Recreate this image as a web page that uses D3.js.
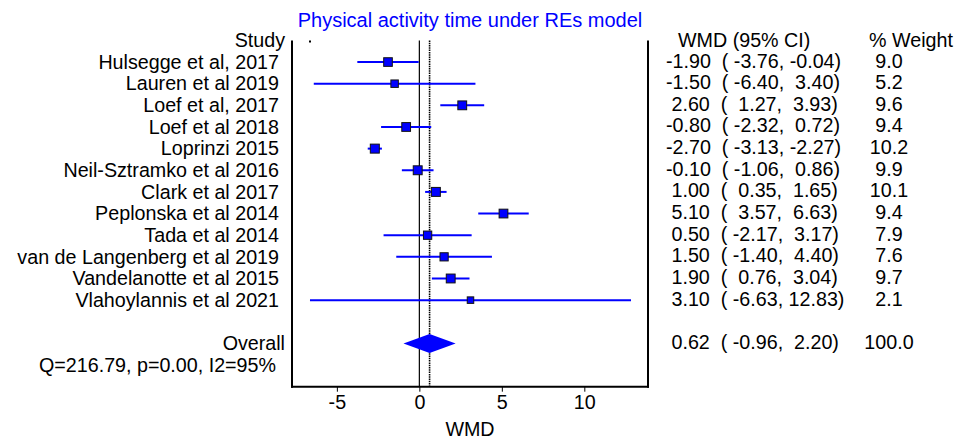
<!DOCTYPE html>
<html>
<head>
<meta charset="utf-8">
<script src="https://cdn.jsdelivr.net/npm/d3@7"></script>
<style>
  html, body { margin: 0; padding: 0; background: #fff; }
  svg { display: block; }
  text { font-family: "Liberation Sans", Arial, sans-serif; fill: #000; white-space: pre; }
</style>
</head>
<body>
<svg id="chart" width="957" height="440"></svg>
<script>
// Study-level results (weighted mean difference, 95% CI, % weight)
const studies = [
  "Hulsegge et al, 2017", "Lauren et al 2019", "Loef et al, 2017", "Loef et al 2018",
  "Loprinzi 2015", "Neil-Sztramko et al 2016", "Clark et al 2017", "Peplonska et al 2014",
  "Tada et al 2014", "van de Langenberg et al 2019", "Vandelanotte et al 2015", "Vlahoylannis et al 2021"
];
const wmd   = [-1.90, -1.50, 2.60, -0.80, -2.70, -0.10, 1.00, 5.10, 0.50, 1.50, 1.90, 3.10];
const lower = [-3.76, -6.40, 1.27, -2.32, -3.13, -1.06, 0.35, 3.57, -2.17, -1.40, 0.76, -6.63];
const upper = [-0.04, 3.40, 3.93, 0.72, -2.27, 0.86, 1.65, 6.63, 3.17, 4.40, 3.04, 12.83];
const weight = [9.0, 5.2, 9.6, 9.4, 10.2, 9.9, 10.1, 9.4, 7.9, 7.6, 9.7, 2.1];

// Pooled random-effects estimate
const overall = { est: 0.62, lo: -0.96, hi: 2.20, weight: 100.0 };
const heterogeneity = "Q=216.79, p=0.00, I2=95%";

const xTicks = [-5, 0, 5, 10];
const titleText = "Physical activity time under REs model";
const xTitle = "WMD";

const svg = d3.select("#chart");
const blue = "#0000ff";

// Plain hyphen-minus for negative numbers
const locale = d3.formatLocale({ decimal: ".", thousands: ",", grouping: [3], currency: ["", ""], minus: "-" });
const f2 = locale.format(".2f");
const f1 = locale.format(".1f");
const fInt = locale.format("d");

// Scales
const x = d3.scaleLinear().domain([-7.72, 13.86]).range([292, 648]);
const y = d3.scaleLinear().domain([0, 16]).range([40.4, 386.7]); // row index -> y
const boxSide = d3.scaleLinear().domain([2.1, 10.2]).range([6.5, 9]);

const fs = 19.7;

// Title
svg.append("text")
  .attr("x", 470).attr("y", 27)
  .attr("text-anchor", "middle")
  .style("font-size", "20px")
  .style("fill", blue)
  .text(titleText);

// Frame: left, right and bottom lines
const frame = svg.append("g").attr("stroke", "#000").attr("stroke-width", 2);
frame.append("line").attr("x1", 292).attr("x2", 292).attr("y1", y(0)).attr("y2", y(16) + 1);
frame.append("line").attr("x1", 648).attr("x2", 648).attr("y1", y(0)).attr("y2", y(16) + 1);

// X axis along the bottom of the frame
const axis = d3.axisBottom(x).tickValues(xTicks).tickSize(5).tickPadding(3).tickFormat(fInt);
const gAxis = svg.append("g").attr("transform", `translate(0,${y(16)})`).call(axis);
gAxis.select(".domain").attr("stroke-width", 2).attr("d", `M291,0H649`);
gAxis.selectAll(".tick line").attr("stroke-width", 1);
gAxis.selectAll(".tick text")
  .style("font-size", fs + "px")
  .style("font-family", '"Liberation Sans", Arial, sans-serif')
  .attr("dy", "0.71em");

svg.append("text")
  .attr("x", 470).attr("y", 436)
  .attr("text-anchor", "middle")
  .style("font-size", fs + "px")
  .text(xTitle);

// Null line and pooled-estimate line
svg.append("line")
  .attr("x1", x(0)).attr("x2", x(0))
  .attr("y1", y(0)).attr("y2", y(16))
  .attr("stroke", "#000").attr("stroke-width", 1.2);
svg.append("line")
  .attr("x1", x(overall.est)).attr("x2", x(overall.est))
  .attr("y1", y(0)).attr("y2", y(16))
  .attr("stroke", "#000").attr("stroke-width", 1.6)
  .attr("stroke-dasharray", "1.5,0.8");

// Small marker at the top of the plot region
svg.append("rect").attr("x", 309).attr("y", 40.5).attr("width", 2).attr("height", 2).attr("fill", "#000");

// Study rows
const rows = studies.map((s, i) => ({
  name: s, est: wmd[i], lo: lower[i], hi: upper[i], w: weight[i], row: i + 1
}));

const gRows = svg.append("g");
gRows.selectAll("line.ci").data(rows).join("line")
  .attr("class", "ci")
  .attr("x1", d => x(d.lo)).attr("x2", d => x(d.hi))
  .attr("y1", d => y(d.row)).attr("y2", d => y(d.row))
  .attr("stroke", blue).attr("stroke-width", 2);

gRows.selectAll("rect.box").data(rows).join("rect")
  .attr("class", "box")
  .attr("x", d => x(d.est) - boxSide(d.w) / 2)
  .attr("y", d => y(d.row) - boxSide(d.w) / 2)
  .attr("width", d => boxSide(d.w))
  .attr("height", d => boxSide(d.w))
  .attr("fill", blue)
  .attr("stroke", "#111")
  .attr("stroke-width", 1);

// Pooled diamond
const oy = y(14);
svg.append("path")
  .attr("d", `M${x(overall.lo)},${oy}L${x(overall.est)},${oy - 9.5}L${x(overall.hi)},${oy}L${x(overall.est)},${oy + 9.5}Z`)
  .attr("fill", blue);

// Left labels
const baseOff = 6.8;
svg.append("text").attr("x", 285).attr("y", y(0) + baseOff)
  .attr("text-anchor", "end").style("font-size", fs + "px").text("Study");
svg.selectAll("text.study").data(rows).join("text")
  .attr("class", "study")
  .attr("x", 279).attr("y", d => y(d.row) + baseOff)
  .attr("text-anchor", "end").style("font-size", fs + "px")
  .text(d => d.name);
svg.append("text").attr("x", 285).attr("y", y(14) + baseOff)
  .attr("text-anchor", "end").style("font-size", fs + "px").text("Overall");
svg.append("text").attr("x", 276).attr("y", y(15) + baseOff)
  .attr("text-anchor", "end").style("font-size", fs + "px").text(heterogeneity);

// Right-hand columns
const pad = (v) => f2(v).padStart(5, " ");
const ciText = (e, l, h) => `${pad(e)}  ( ${pad(l)}, ${pad(h)})`;
const rOff = 5.5;

svg.append("text").attr("x", 678).attr("y", y(0) + baseOff)
  .style("font-size", fs + "px").text("WMD (95% CI)");
svg.append("text").attr("x", 869).attr("y", y(0) + baseOff)
  .style("font-size", fs + "px").text("% Weight");

svg.selectAll("text.ci").data(rows).join("text")
  .attr("class", "ci")
  .attr("x", 666).attr("y", d => y(d.row) + rOff)
  .style("font-size", fs + "px")
  .text(d => ciText(d.est, d.lo, d.hi));
svg.selectAll("text.wt").data(rows).join("text")
  .attr("class", "wt")
  .attr("x", 889).attr("y", d => y(d.row) + rOff)
  .attr("text-anchor", "middle")
  .style("font-size", fs + "px")
  .text(d => f1(d.w));

svg.append("text").attr("x", 666).attr("y", y(14) + rOff)
  .style("font-size", fs + "px").text(ciText(overall.est, overall.lo, overall.hi));
svg.append("text").attr("x", 889).attr("y", y(14) + rOff)
  .attr("text-anchor", "middle").style("font-size", fs + "px")
  .text(f1(overall.weight));
</script>
</body>
</html>
